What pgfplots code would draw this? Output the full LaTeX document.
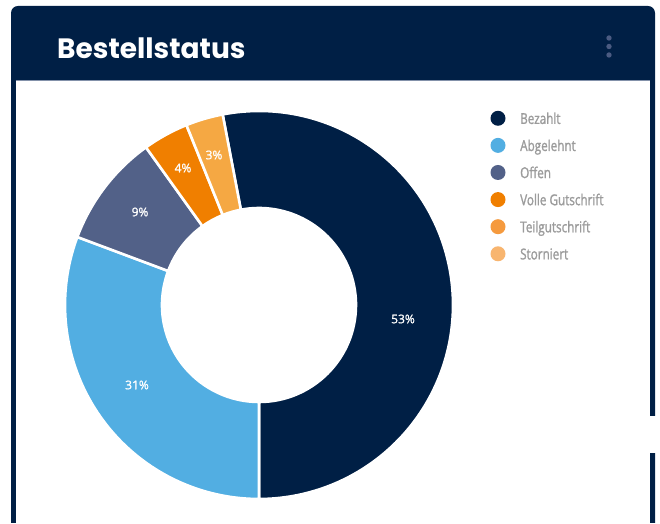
\documentclass[border=0pt]{standalone}
\usepackage{pgfplots}
\usepackage{pgfplotstable}
\pgfplotsset{compat=1.18}
\usepackage{fontspec}
\setmainfont{Open Sans}
\newfontfamily\legfont{Open Sans}[FakeStretch=0.78, FakeBold=1.2]
\newfontfamily\pctfont{Open Sans}[FakeBold=1.2]
\newfontfamily\titlefont{Poppins}
\definecolor{navy}{HTML}{001F45}
\definecolor{cBez}{HTML}{001F45}
\definecolor{cAbg}{HTML}{52AEE2}
\definecolor{cOff}{HTML}{526188}
\definecolor{cVol}{HTML}{F07F00}
\definecolor{cTeil}{HTML}{F59A3E}
\definecolor{cTeilSeg}{HTML}{F5A843}
\definecolor{cSto}{HTML}{F8B56F}
\definecolor{legtext}{HTML}{9B9B9B}
\definecolor{menudot}{HTML}{4B5B82}
\definecolor{seam}{HTML}{8391AA}

% share of each status (percent), segment colour, legend colour, label position (px)
\pgfplotstableread{
name val seg dot lx ly
Bezahlt 53.0 cBez cBez 403 319
Abgelehnt 30.7 cAbg cAbg 137 385
Offen 9.4 cOff cOff 140 212
{Volle Gutschrift} 3.8 cVol cVol 183 168
Teilgutschrift 3.1 cTeilSeg cTeil 214 155
Storniert 0 cSto cSto 0 0
}\donut

\tikzset{
  legtxt/.style={font=\legfont\fontsize{15bp}{18bp}\selectfont, text=legtext, anchor=base west, inner sep=0pt},
  pctlab/.style={font=\pctfont\fontsize{12bp}{14bp}\selectfont, text=white, anchor=center, inner sep=0pt},
}

\begin{document}
\begin{tikzpicture}
\useasboundingbox (0,0) rectangle (660bp,524bp);
\clip (0,0) rectangle (660bp,524bp);
\begin{axis}[
  at={(0,0)}, anchor=south west,
  scale only axis, width=660bp, height=524bp,
  xmin=0, xmax=660, ymin=0, ymax=524,
  hide axis, clip=false,
]
% card
\fill[navy, rounded corners=7bp] (axis cs:11,-20) rectangle (axis cs:655,518);
\fill[white] (axis cs:15.5,-20) rectangle (axis cs:650,443.5);
\draw[seam, line width=0.8bp] (axis cs:15.5,443.8) -- (axis cs:650,443.8);
\fill[white] (axis cs:648,71) rectangle (axis cs:657,108);
\fill[white] (axis cs:0,-20) rectangle (axis cs:660,0.6);
% title and menu
\node[anchor=base west, inner sep=0pt, text=white, font=\titlefont\bfseries\fontsize{28bp}{32bp}\selectfont] at (axis cs:57,465) {Bestellstatus};
\fill[menudot] (axis cs:609,486) circle[radius=2.7bp];
\fill[menudot] (axis cs:609,477.5) circle[radius=2.7bp];
\fill[menudot] (axis cs:609,469) circle[radius=2.7bp];

\pgfplotstablegetrowsof{\donut}
\pgfmathtruncatemacro\nrows{\pgfplotsretval-1}
\pgfplotstablegetelem{0}{val}\of\donut
\pgfmathsetmacro\curang{-90+3.6*\pgfplotsretval}
\pgfplotsforeachungrouped \i in {0,...,\nrows}{%
  \pgfplotstablegetelem{\i}{val}\of\donut \let\myval\pgfplotsretval
  \pgfplotstablegetelem{\i}{seg}\of\donut \let\mysc\pgfplotsretval
  \pgfplotstablegetelem{\i}{dot}\of\donut \let\mydc\pgfplotsretval
  \pgfplotstablegetelem{\i}{name}\of\donut \let\myname\pgfplotsretval
  \pgfplotstablegetelem{\i}{lx}\of\donut \let\mylx\pgfplotsretval
  \pgfplotstablegetelem{\i}{ly}\of\donut \let\myly\pgfplotsretval
  \pgfmathsetmacro\nextang{\curang-3.6*\myval}%
  \pgfmathsetmacro\xa{259+194*cos(\curang)}%
  \pgfmathsetmacro\ya{219+194*sin(\curang)}%
  \pgfmathsetmacro\xb{259+97*cos(\nextang)}%
  \pgfmathsetmacro\yb{219+97*sin(\nextang)}%
  \pgfmathsetmacro\lyy{524-\myly}%
  \pgfmathtruncatemacro\lab{round(\myval)}%
  \pgfmathsetmacro\ky{524-(118.3+27.1*\i)}%
  \pgfmathsetmacro\kyb{\ky-5.6}%
  \ifdim\myval pt>0pt
    \edef\cmd{\noexpand\fill[fill=\mysc, draw=white, line width=2.6bp, line join=round]
      (axis cs:\xa,\ya) arc[start angle=\curang, end angle=\nextang, radius=194bp]
      -- (axis cs:\xb,\yb) arc[start angle=\nextang, end angle=\curang, radius=97bp] -- cycle;
      \noexpand\node[pctlab] at (axis cs:\mylx,\lyy) {\lab\noexpand\%};}%
    \cmd
  \fi
  \edef\cmd{\noexpand\fill[\mydc] (axis cs:498,\ky) circle[radius=7.5bp];
    \noexpand\node[legtxt] at (axis cs:520,\kyb) {\myname};}%
  \cmd
  \let\curang\nextang
}
\end{axis}
\end{tikzpicture}
\end{document}
